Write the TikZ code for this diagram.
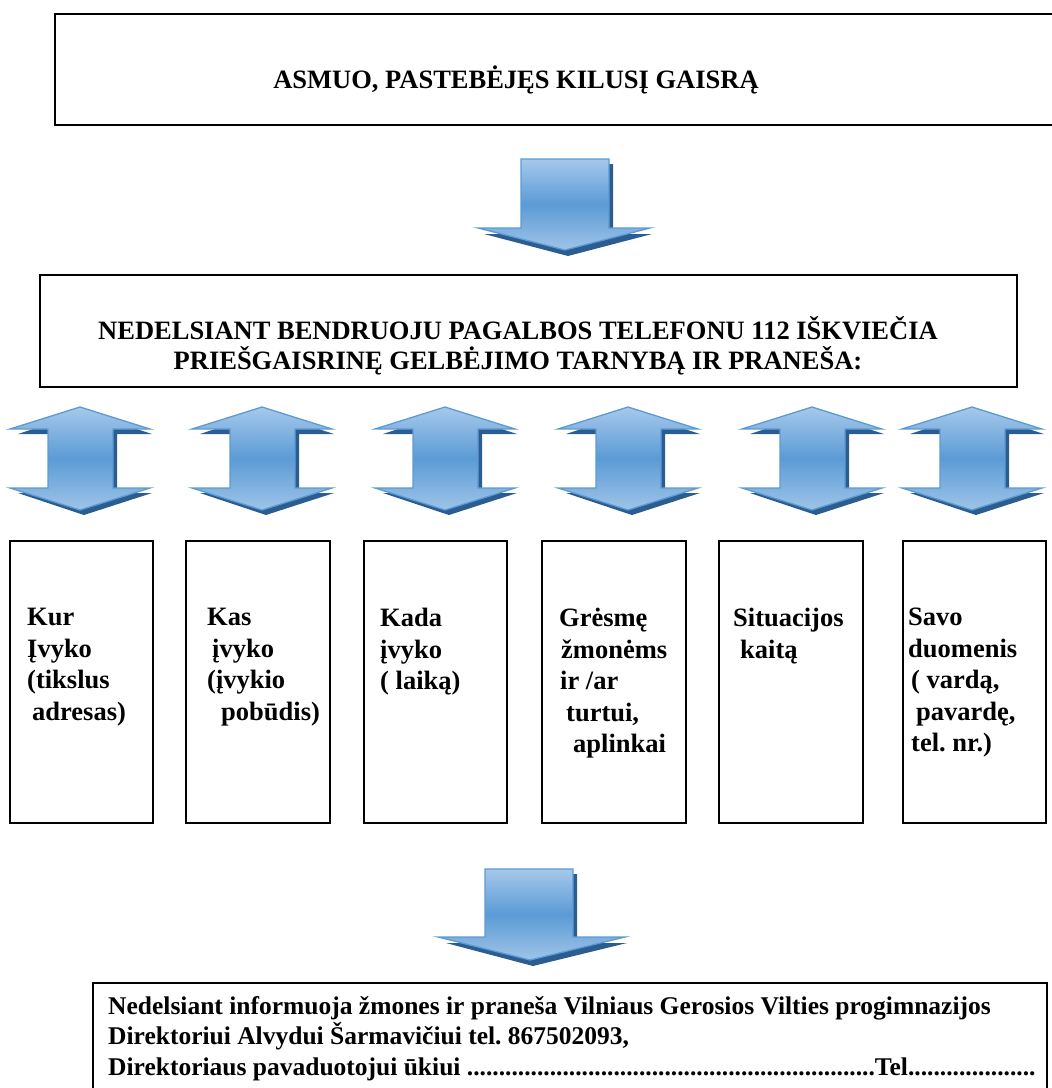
\documentclass[tikz,border=0pt]{standalone}
\usepackage{fontspec}
\setmainfont{Liberation Serif}
\frenchspacing
\definecolor{arrowlight}{HTML}{A6C8EB}
\definecolor{arrowlightb}{HTML}{9FC4E8}
\definecolor{arrowmid}{HTML}{5B9BD5}
\definecolor{arrowline}{HTML}{5B9BD5}
\definecolor{arrowshade}{HTML}{2C5D90}
\begin{document}
\begin{tikzpicture}[x=1pt,y=-1pt,
  box/.style={draw=black,line width=1.6pt,fill=none,inner sep=0pt},
  lbl/.style={font=\frenchspacing\bfseries\fontsize{26.5}{31.5}\selectfont,inner sep=0pt,align=left,anchor=north west},
  ctr/.style={font=\bfseries\fontsize{26.5}{30}\selectfont,inner sep=0pt,align=center},
  arrowfill/.style={draw=arrowline,line width=1.3pt,line join=miter,top color=arrowlight,bottom color=arrowlightb,middle color=arrowmid},
  arrowshadow/.style={fill=arrowshade,draw=none},
  pics/dblarrow/.style={code={
    \fill[arrowshadow,shift={(4,5)}] (0,0) -- (68,22) -- (33,22) -- (33,81) -- (68,81) -- (0,103) -- (-66,81) -- (-32,81) -- (-32,22) -- (-66,22) -- cycle;
    \path[arrowfill] (0,0) -- (70,22) -- (33,22) -- (33,81) -- (70,81) -- (0,103) -- (-70,81) -- (-32,81) -- (-32,22) -- (-70,22) -- cycle;
  }}
]
\useasboundingbox (0,0) rectangle (1052,1088);

% top box
\draw[box] (55,14) rectangle (1070,125);
\node[ctr] (t1) at (516,80) {ASMUO, PASTEBĖJĘS KILUSĮ GAISRĄ};

% first down arrow
\fill[arrowshadow] (525,164) -- (613,164) -- (613,234) -- (652,234) -- (568,256) -- (484,234) -- (525,234) -- cycle;
\path[arrowfill] (521,159) -- (609,159) -- (609,228) -- (650,228) -- (565,250) -- (478,228) -- (521,228) -- cycle;

% second box
\draw[box] (40,275) rectangle (1017,387);
\node[ctr] (t2) at (518,346) {NEDELSIANT BENDRUOJU PAGALBOS TELEFONU 112 IŠKVIEČIA\\PRIEŠGAISRINĘ GELBĖJIMO TARNYBĄ IR PRANEŠA:};

% double arrows
\foreach \c in {80,262,445,628,812,972} {
  \pic at (\c,407) {dblarrow};
}

% small boxes
\draw[box] (10,541) rectangle (153,823);
\draw[box] (186,541) rectangle (330,823);
\draw[box] (364,541) rectangle (507,823);
\draw[box] (542,541) rectangle (686,823);
\draw[box] (719,541) rectangle (863,823);
\draw[box] (903,541) rectangle (1046,823);

\node[lbl] (b1) at (27,608) {Kur\\Įvyko\\(tikslus\\\hspace*{5pt}adresas)};
\node[lbl] (b2) at (207,608) {Kas\\\hspace*{5pt}įvyko\\(įvykio\\\hspace*{14pt}pobūdis)};
\node[lbl] (b3) at (380,608) {Kada\\įvyko\\( laiką)};
\node[lbl] (b4) at (559,608) {Grėsmę\\\hspace*{2pt}žmonėms\\\hspace*{1pt}ir /ar\\\hspace*{7pt}turtui,\\\hspace*{14pt}aplinkai};
\node[lbl] (b5) at (733,608) {Situacijos\\\hspace*{7pt}kaitą};
\node[lbl] (b6) at (908,608) {Savo\\duomenis\\\hspace*{3pt}( vardą,\\\hspace*{8pt}pavardę,\\\hspace*{3pt}tel. nr.)};

% second down arrow
\fill[arrowshadow] (489,874) -- (577,874) -- (577,943) -- (627,943) -- (533,966) -- (446,943) -- (489,943) -- cycle;
\path[arrowfill] (485,869) -- (573,869) -- (573,937) -- (625,937) -- (530,960) -- (438,937) -- (485,937) -- cycle;

% bottom box
\draw[box] (93,983) rectangle (1047,1110);
\node[lbl,font=\frenchspacing\bfseries\fontsize{25.5}{30.5}\selectfont] (b7) at (108,996) {Nedelsiant informuoja žmones ir praneša Vilniaus Gerosios Vilties progimnazijos\\Direktoriui Alvydui Šarmavičiui tel. 867502093,\\Direktoriaus pavaduotojui ūkiui ................................................................Tel....................};
\end{tikzpicture}
\end{document}
